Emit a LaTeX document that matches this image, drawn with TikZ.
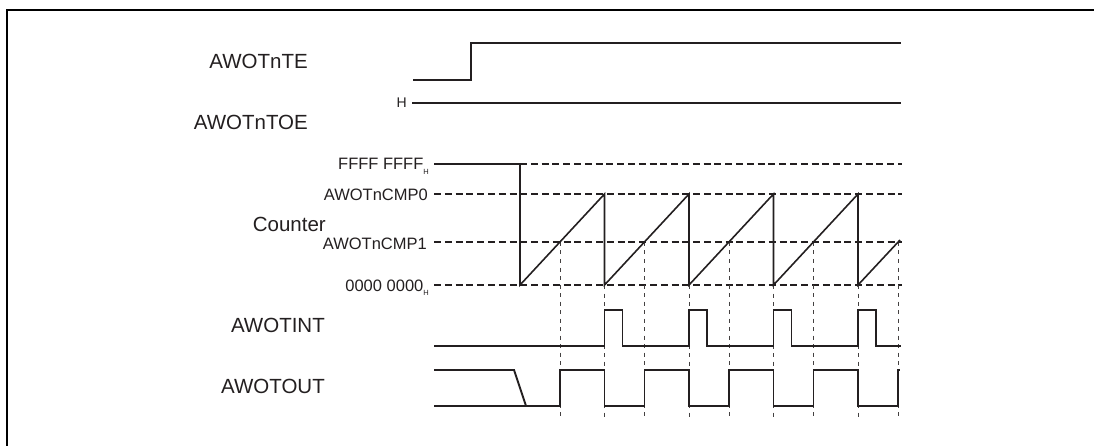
\documentclass[tikz,border=0pt]{standalone}
\usepackage{fontspec}
\setmainfont{Liberation Sans}
\definecolor{ink}{RGB}{35,31,32}
\begin{document}
\begin{tikzpicture}[x=1pt,y=-1pt,
  sig/.style={draw=ink,line width=1.9pt,line join=miter},
  level/.style={draw=ink,line width=1.2pt,dash pattern=on 7pt off 3.8pt},
  guide/.style={draw=ink!85,line width=0.9pt,dash pattern=on 4pt off 4.5pt},
  big/.style={text=ink,font=\fontsize{20.5}{22}\selectfont,inner sep=0pt,anchor=east},
  small/.style={text=ink,font=\fontsize{16.5}{18}\selectfont,inner sep=0pt,anchor=east},
  frame/.style={draw=black,line width=2.2pt}]
\useasboundingbox (0,0) rectangle (1094,446);
\newcommand{\subH}{\raisebox{-0.3em}{\fontsize{7.5}{8}\selectfont H}}
% frame
\draw[frame] (7,447) -- (7,10) -- (1095,10);
% labels
\node[big] (lte) at (308,61) {AWOTnTE};
\node[big] (ltoe) at (308,122) {AWOTnTOE};
\node[big] (lcnt) at (326,224) {Counter};
\node[big] (lint) at (325,325) {AWOTINT};
\node[big] (lout) at (325,386) {AWOTOUT};
\node[text=ink,font=\fontsize{14}{15}\selectfont,inner sep=0pt,anchor=east] (lh) at (407,103) {H};
\node[small,anchor=base east] (lff) at (429,170) {FFFF FFFF\subH};
\node[small] (lc0) at (428,194.5) {AWOTnCMP0};
\node[small] (lc1) at (427,243.5) {AWOTnCMP1};
\node[small,anchor=base east] (l00) at (429,291) {0000 0000\subH};
% AWOTnTE
\draw[sig] (413,80) -- (471,80) -- (471,43) -- (901,43);
% AWOTnTOE
\draw[sig] (412,103) -- (901,103);
% counter levels
\draw[sig] (434,164) -- (520,164);
\draw[level] (520,164) -- (902,164);
\draw[level] (434,194) -- (902,194);
\draw[level] (434,242) -- (902,242);
\draw[level] (434,285) -- (902,285);
% guides
\foreach \x in {560,644.5,729,813.5,898} \draw[guide] (\x,242) -- (\x,419);
\foreach \x in {604.5,689,773.5,858} \draw[guide] (\x,285) -- (\x,419);
% counter waveform
\draw[sig,line width=1.6pt] (520,164) -- (520,285) -- (604.5,194) -- (604.5,285) -- (689,194) -- (689,285)
  -- (773.5,194) -- (773.5,285) -- (858,194) -- (858,285) -- (900,240);
% AWOTINT
\draw[sig] (434,346) -- (604.5,346) -- (604.5,310) -- (622.5,310) -- (622.5,346)
  -- (689,346) -- (689,310) -- (707,310) -- (707,346)
  -- (773.5,346) -- (773.5,310) -- (791.5,310) -- (791.5,346)
  -- (858,346) -- (858,310) -- (876,310) -- (876,346) -- (901,346);
% AWOTOUT
\draw[sig] (434,370) -- (514,370) -- (526,406);
\draw[sig] (434,406) -- (560,406) -- (560,370) -- (604.5,370) -- (604.5,406)
  -- (644.5,406) -- (644.5,370) -- (689,370) -- (689,406)
  -- (729,406) -- (729,370) -- (773.5,370) -- (773.5,406)
  -- (813.5,406) -- (813.5,370) -- (858,370) -- (858,406)
  -- (898,406) -- (898,370) -- (900,370);
\end{tikzpicture}
\end{document}
